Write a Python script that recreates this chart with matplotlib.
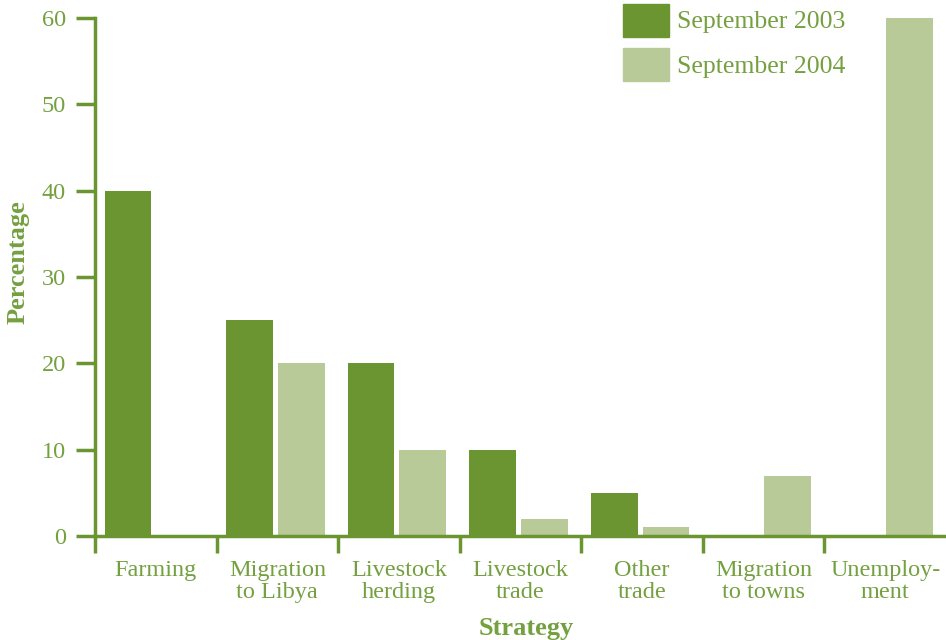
import matplotlib
matplotlib.use("Agg")
import matplotlib.pyplot as plt
import numpy as np
from matplotlib.patches import Patch

categories = ["Farming", "Migration\nto Libya", "Livestock\nherding", "Livestock\ntrade",
              "Other\ntrade", "Migration\nto towns", "Unemploy-\nment"]
sep2003 = [40, 25, 20, 10, 5, 0, 0]
sep2004 = [0, 20, 10, 2, 1, 7, 60]
series_labels = ["September 2003", "September 2004"]
yticks = [0, 10, 20, 30, 40, 50, 60]

dark = "#6b9530"
light = "#b7ca98"
textc = "#74a040"

plt.rcParams['font.family'] = ['Liberation Serif', 'DejaVu Serif']
fs = 17.5

fig = plt.figure(figsize=(9.46, 6.4), dpi=100)
ax = fig.add_axes([95/946, 104/640, 851/946, 518/640])

x = np.arange(len(categories))
w = 0.385
ax.bar(x - 0.229, sep2003, width=w, color=dark, label=series_labels[0])
ax.bar(x + 0.197, sep2004, width=w, color=light, label=series_labels[1])

ax.set_xlim(-0.5, len(categories) - 0.5)
ax.set_ylim(0, 60)
for s in ["top", "right"]:
    ax.spines[s].set_visible(False)
for s in ["left", "bottom"]:
    ax.spines[s].set_color(dark)
    ax.spines[s].set_linewidth(2.5)

ax.set_yticks(yticks)
ax.tick_params(axis='y', length=14, width=2.5, color=dark, labelcolor=textc,
               labelsize=fs, pad=7)
ax.set_xticks(x)
ax.set_xticklabels(categories, linespacing=1.1)
ax.tick_params(axis='x', which='major', length=0, labelcolor=textc, labelsize=fs, pad=17)
ax.set_xticks(np.arange(len(categories)) - 0.5, minor=True)
ax.tick_params(axis='x', which='minor', length=12, width=2.5, color=dark, direction='out')

fig.text(18/946, 1 - 262/640, "Percentage", rotation=90, ha='center', va='center',
         fontsize=19, fontweight='bold', color=textc)
fig.text(526/946, 1 - 628/640, "Strategy", ha='center', va='center',
         fontsize=19, fontweight='bold', color=textc)

handles = [Patch(color=dark), Patch(color=light)]
fig.legend(handles, series_labels, loc='upper left', bbox_to_anchor=(620/946, 1 - 1/640),
           frameon=False, fontsize=18.5, labelcolor=textc, handlelength=1.8,
           handleheight=1.6, labelspacing=0.45, handletextpad=0.33, borderaxespad=0,
           borderpad=0.1)

fig.savefig("out.png", dpi=100)
